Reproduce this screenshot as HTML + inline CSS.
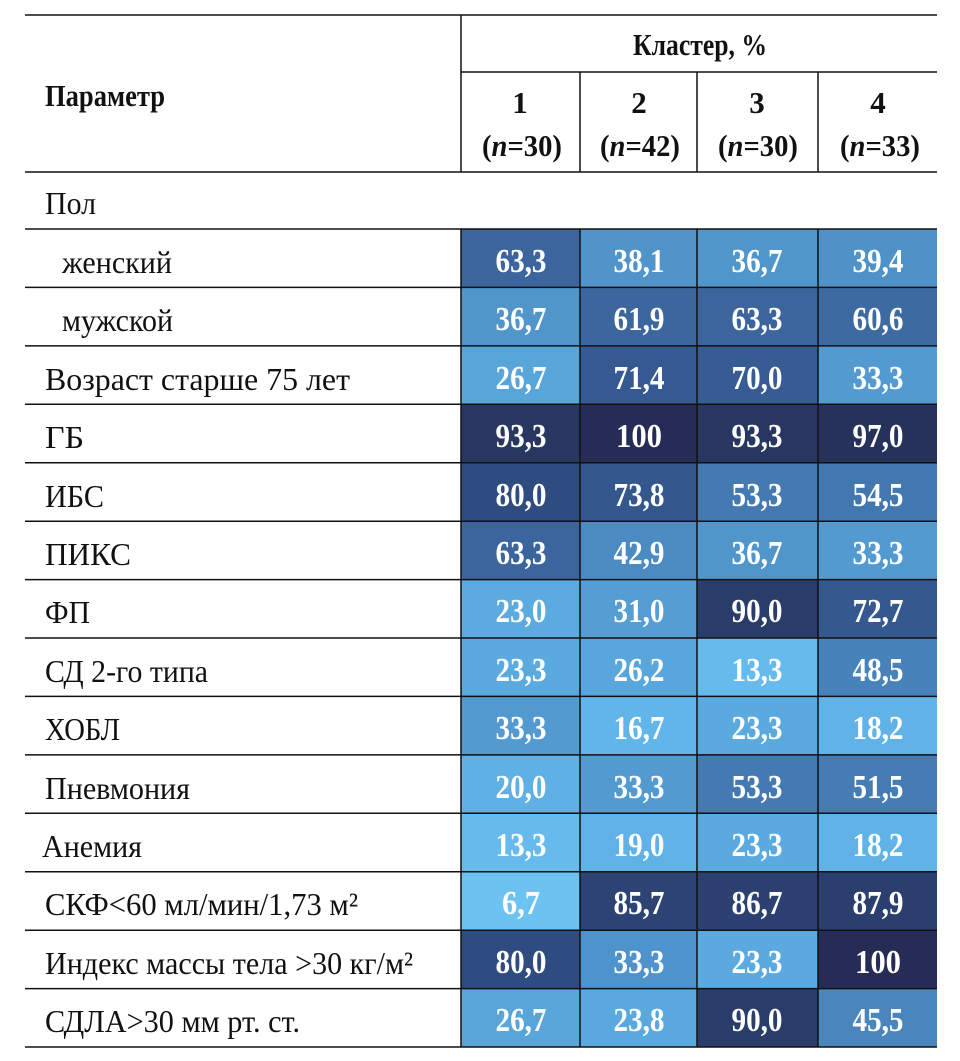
<!DOCTYPE html>
<html><head><meta charset="utf-8"><style>
html,body{margin:0;padding:0;background:#fff;width:960px;height:1061px;overflow:hidden}
svg text{font-family:"Liberation Serif",serif}
.v{font-weight:bold;fill:#fff;font-size:34px;text-anchor:middle}
.l{font-size:32px;fill:#111}
.h{font-weight:bold;font-size:31px;fill:#111;text-anchor:middle}
</style></head><body>
<svg width="960" height="1061" xmlns="http://www.w3.org/2000/svg">
<g stroke="none">
<rect x="461" y="229" width="119" height="58.4" fill="#3b659c"/><rect x="580" y="229" width="117" height="58.4" fill="#5094c9"/><rect x="697" y="229" width="121" height="58.4" fill="#5196cb"/><rect x="818" y="229" width="119" height="58.4" fill="#4e92c8"/>
<rect x="461" y="287.4" width="119" height="58.4" fill="#5196cb"/><rect x="580" y="287.4" width="117" height="58.4" fill="#3c679e"/><rect x="697" y="287.4" width="121" height="58.4" fill="#3b659c"/><rect x="818" y="287.4" width="119" height="58.4" fill="#3d6aa1"/>
<rect x="461" y="345.9" width="119" height="58.4" fill="#58a5da"/><rect x="580" y="345.9" width="117" height="58.4" fill="#355a91"/><rect x="697" y="345.9" width="121" height="58.4" fill="#365c93"/><rect x="818" y="345.9" width="119" height="58.4" fill="#539ad0"/>
<rect x="461" y="404.3" width="119" height="58.4" fill="#283761"/><rect x="580" y="404.3" width="117" height="58.4" fill="#262c55"/><rect x="697" y="404.3" width="121" height="58.4" fill="#283761"/><rect x="818" y="404.3" width="119" height="58.4" fill="#27325b"/>
<rect x="461" y="462.7" width="119" height="58.4" fill="#2e4c80"/><rect x="580" y="462.7" width="117" height="58.4" fill="#34578e"/><rect x="697" y="462.7" width="121" height="58.4" fill="#4479b1"/><rect x="818" y="462.7" width="119" height="58.4" fill="#4377af"/>
<rect x="461" y="521.2" width="119" height="58.4" fill="#3b659c"/><rect x="580" y="521.2" width="117" height="58.4" fill="#4c8bc1"/><rect x="697" y="521.2" width="121" height="58.4" fill="#5196cb"/><rect x="818" y="521.2" width="119" height="58.4" fill="#539ad0"/>
<rect x="461" y="579.6" width="119" height="58.4" fill="#5babe0"/><rect x="580" y="579.6" width="117" height="58.4" fill="#549ed4"/><rect x="697" y="579.6" width="121" height="58.4" fill="#2a3c69"/><rect x="818" y="579.6" width="119" height="58.4" fill="#35598f"/>
<rect x="461" y="638" width="119" height="58.4" fill="#5baadf"/><rect x="580" y="638" width="117" height="58.4" fill="#58a6db"/><rect x="697" y="638" width="121" height="58.4" fill="#66bbec"/><rect x="818" y="638" width="119" height="58.4" fill="#4782bb"/>
<rect x="461" y="696.4" width="119" height="58.4" fill="#539ad0"/><rect x="580" y="696.4" width="117" height="58.4" fill="#62b5e8"/><rect x="697" y="696.4" width="121" height="58.4" fill="#5baadf"/><rect x="818" y="696.4" width="119" height="58.4" fill="#61b3e7"/>
<rect x="461" y="754.9" width="119" height="58.4" fill="#5fb0e4"/><rect x="580" y="754.9" width="117" height="58.4" fill="#539ad0"/><rect x="697" y="754.9" width="121" height="58.4" fill="#4479b1"/><rect x="818" y="754.9" width="119" height="58.4" fill="#457cb4"/>
<rect x="461" y="813.3" width="119" height="58.4" fill="#66bbec"/><rect x="580" y="813.3" width="117" height="58.4" fill="#60b2e6"/><rect x="697" y="813.3" width="121" height="58.4" fill="#5baadf"/><rect x="818" y="813.3" width="119" height="58.4" fill="#61b3e7"/>
<rect x="461" y="871.7" width="119" height="58.4" fill="#6cc2f1"/><rect x="580" y="871.7" width="117" height="58.4" fill="#2d4374"/><rect x="697" y="871.7" width="121" height="58.4" fill="#2c4171"/><rect x="818" y="871.7" width="119" height="58.4" fill="#2b3f6e"/>
<rect x="461" y="930.2" width="119" height="58.4" fill="#2e4c80"/><rect x="580" y="930.2" width="117" height="58.4" fill="#4f93cc"/><rect x="697" y="930.2" width="121" height="58.4" fill="#5baadf"/><rect x="818" y="930.2" width="119" height="58.4" fill="#262c55"/>
<rect x="461" y="988.6" width="119" height="58.4" fill="#58a5da"/><rect x="580" y="988.6" width="117" height="58.4" fill="#5aa9de"/><rect x="697" y="988.6" width="121" height="58.4" fill="#2a3c69"/><rect x="818" y="988.6" width="119" height="58.4" fill="#4a86bd"/>
</g>
<g stroke="#111" stroke-width="1.5" fill="none">
<line x1="25" y1="15" x2="937" y2="15"/>
<line x1="461" y1="72" x2="937" y2="72"/>
<line x1="25" y1="172" x2="937" y2="172"/>
<line x1="461" y1="15" x2="461" y2="172"/>
<line x1="580" y1="72" x2="580" y2="172"/>
<line x1="697" y1="72" x2="697" y2="172"/>
<line x1="818" y1="72" x2="818" y2="172"/>
<line x1="25" y1="229" x2="937" y2="229"/><line x1="25" y1="287.4" x2="937" y2="287.4"/><line x1="25" y1="345.9" x2="937" y2="345.9"/><line x1="25" y1="404.3" x2="937" y2="404.3"/><line x1="25" y1="462.7" x2="937" y2="462.7"/><line x1="25" y1="521.2" x2="937" y2="521.2"/><line x1="25" y1="579.6" x2="937" y2="579.6"/><line x1="25" y1="638" x2="937" y2="638"/><line x1="25" y1="696.4" x2="937" y2="696.4"/><line x1="25" y1="754.9" x2="937" y2="754.9"/><line x1="25" y1="813.3" x2="937" y2="813.3"/><line x1="25" y1="871.7" x2="937" y2="871.7"/><line x1="25" y1="930.2" x2="937" y2="930.2"/><line x1="25" y1="988.6" x2="937" y2="988.6"/><line x1="25" y1="1047" x2="937" y2="1047"/>
<line x1="461" y1="229" x2="461" y2="1047"/>
<line x1="580" y1="229" x2="580" y2="1047"/>
<line x1="697" y1="229" x2="697" y2="1047"/>
<line x1="818" y1="229" x2="818" y2="1047"/>
</g>
<text class="h" x="700" y="55" textLength="134" lengthAdjust="spacingAndGlyphs">Кластер, %</text>
<text class="h" x="45" y="106" style="text-anchor:start" textLength="120" lengthAdjust="spacingAndGlyphs">Параметр</text>
<text class="h" x="520" y="113">1</text><text class="h" x="639" y="113">2</text><text class="h" x="757" y="113">3</text><text class="h" x="878" y="113">4</text>
<text class="h" x="522" y="156" textLength="80" lengthAdjust="spacingAndGlyphs">(<tspan font-style="italic">n</tspan>=30)</text><text class="h" x="640" y="156" textLength="80" lengthAdjust="spacingAndGlyphs">(<tspan font-style="italic">n</tspan>=42)</text><text class="h" x="758" y="156" textLength="80" lengthAdjust="spacingAndGlyphs">(<tspan font-style="italic">n</tspan>=30)</text><text class="h" x="880" y="156" textLength="80" lengthAdjust="spacingAndGlyphs">(<tspan font-style="italic">n</tspan>=33)</text>
<g>
<text class="l" x="45" y="214" textLength="51" lengthAdjust="spacingAndGlyphs">Пол</text>
<text class="l" x="62" y="273" textLength="110" lengthAdjust="spacingAndGlyphs">женский</text>
<text class="l" x="62" y="331" textLength="111" lengthAdjust="spacingAndGlyphs">мужской</text>
<text class="l" x="45" y="390" textLength="305" lengthAdjust="spacingAndGlyphs">Возраст старше 75 лет</text>
<text class="l" x="45" y="448" textLength="39" lengthAdjust="spacingAndGlyphs">ГБ</text>
<text class="l" x="45" y="507" textLength="59" lengthAdjust="spacingAndGlyphs">ИБС</text>
<text class="l" x="45" y="565" textLength="86" lengthAdjust="spacingAndGlyphs">ПИКС</text>
<text class="l" x="45" y="623" textLength="45" lengthAdjust="spacingAndGlyphs">ФП</text>
<text class="l" x="45" y="682" textLength="163" lengthAdjust="spacingAndGlyphs">СД 2-го типа</text>
<text class="l" x="45" y="740" textLength="75" lengthAdjust="spacingAndGlyphs">ХОБЛ</text>
<text class="l" x="45" y="799" textLength="145" lengthAdjust="spacingAndGlyphs">Пневмония</text>
<text class="l" x="42" y="857" textLength="100" lengthAdjust="spacingAndGlyphs">Анемия</text>
<text class="l" x="45" y="915" textLength="313" lengthAdjust="spacingAndGlyphs">СКФ&lt;60 мл/мин/1,73 м²</text>
<text class="l" x="45" y="974" textLength="368" lengthAdjust="spacingAndGlyphs">Индекс массы тела &gt;30 кг/м²</text>
<text class="l" x="45" y="1032" textLength="255" lengthAdjust="spacingAndGlyphs">СДЛА&gt;30 мм рт. ст.</text>
</g>
<g lengthAdjust="spacingAndGlyphs">
<text class="v" x="521" y="272" textLength="51" lengthAdjust="spacingAndGlyphs">63,3</text><text class="v" x="639" y="272" textLength="51" lengthAdjust="spacingAndGlyphs">38,1</text><text class="v" x="757" y="272" textLength="51" lengthAdjust="spacingAndGlyphs">36,7</text><text class="v" x="878" y="272" textLength="51" lengthAdjust="spacingAndGlyphs">39,4</text>
<text class="v" x="521" y="330" textLength="51" lengthAdjust="spacingAndGlyphs">36,7</text><text class="v" x="639" y="330" textLength="51" lengthAdjust="spacingAndGlyphs">61,9</text><text class="v" x="757" y="330" textLength="51" lengthAdjust="spacingAndGlyphs">63,3</text><text class="v" x="878" y="330" textLength="51" lengthAdjust="spacingAndGlyphs">60,6</text>
<text class="v" x="521" y="389" textLength="51" lengthAdjust="spacingAndGlyphs">26,7</text><text class="v" x="639" y="389" textLength="51" lengthAdjust="spacingAndGlyphs">71,4</text><text class="v" x="757" y="389" textLength="51" lengthAdjust="spacingAndGlyphs">70,0</text><text class="v" x="878" y="389" textLength="51" lengthAdjust="spacingAndGlyphs">33,3</text>
<text class="v" x="521" y="447" textLength="51" lengthAdjust="spacingAndGlyphs">93,3</text><text class="v" x="639" y="447" textLength="46" lengthAdjust="spacingAndGlyphs">100</text><text class="v" x="757" y="447" textLength="51" lengthAdjust="spacingAndGlyphs">93,3</text><text class="v" x="878" y="447" textLength="51" lengthAdjust="spacingAndGlyphs">97,0</text>
<text class="v" x="521" y="506" textLength="51" lengthAdjust="spacingAndGlyphs">80,0</text><text class="v" x="639" y="506" textLength="51" lengthAdjust="spacingAndGlyphs">73,8</text><text class="v" x="757" y="506" textLength="51" lengthAdjust="spacingAndGlyphs">53,3</text><text class="v" x="878" y="506" textLength="51" lengthAdjust="spacingAndGlyphs">54,5</text>
<text class="v" x="521" y="564" textLength="51" lengthAdjust="spacingAndGlyphs">63,3</text><text class="v" x="639" y="564" textLength="51" lengthAdjust="spacingAndGlyphs">42,9</text><text class="v" x="757" y="564" textLength="51" lengthAdjust="spacingAndGlyphs">36,7</text><text class="v" x="878" y="564" textLength="51" lengthAdjust="spacingAndGlyphs">33,3</text>
<text class="v" x="521" y="622" textLength="51" lengthAdjust="spacingAndGlyphs">23,0</text><text class="v" x="639" y="622" textLength="51" lengthAdjust="spacingAndGlyphs">31,0</text><text class="v" x="757" y="622" textLength="51" lengthAdjust="spacingAndGlyphs">90,0</text><text class="v" x="878" y="622" textLength="51" lengthAdjust="spacingAndGlyphs">72,7</text>
<text class="v" x="521" y="681" textLength="51" lengthAdjust="spacingAndGlyphs">23,3</text><text class="v" x="639" y="681" textLength="51" lengthAdjust="spacingAndGlyphs">26,2</text><text class="v" x="757" y="681" textLength="51" lengthAdjust="spacingAndGlyphs">13,3</text><text class="v" x="878" y="681" textLength="51" lengthAdjust="spacingAndGlyphs">48,5</text>
<text class="v" x="521" y="739" textLength="51" lengthAdjust="spacingAndGlyphs">33,3</text><text class="v" x="639" y="739" textLength="51" lengthAdjust="spacingAndGlyphs">16,7</text><text class="v" x="757" y="739" textLength="51" lengthAdjust="spacingAndGlyphs">23,3</text><text class="v" x="878" y="739" textLength="51" lengthAdjust="spacingAndGlyphs">18,2</text>
<text class="v" x="521" y="798" textLength="51" lengthAdjust="spacingAndGlyphs">20,0</text><text class="v" x="639" y="798" textLength="51" lengthAdjust="spacingAndGlyphs">33,3</text><text class="v" x="757" y="798" textLength="51" lengthAdjust="spacingAndGlyphs">53,3</text><text class="v" x="878" y="798" textLength="51" lengthAdjust="spacingAndGlyphs">51,5</text>
<text class="v" x="521" y="856" textLength="51" lengthAdjust="spacingAndGlyphs">13,3</text><text class="v" x="639" y="856" textLength="51" lengthAdjust="spacingAndGlyphs">19,0</text><text class="v" x="757" y="856" textLength="51" lengthAdjust="spacingAndGlyphs">23,3</text><text class="v" x="878" y="856" textLength="51" lengthAdjust="spacingAndGlyphs">18,2</text>
<text class="v" x="521" y="914" textLength="38" lengthAdjust="spacingAndGlyphs">6,7</text><text class="v" x="639" y="914" textLength="51" lengthAdjust="spacingAndGlyphs">85,7</text><text class="v" x="757" y="914" textLength="51" lengthAdjust="spacingAndGlyphs">86,7</text><text class="v" x="878" y="914" textLength="51" lengthAdjust="spacingAndGlyphs">87,9</text>
<text class="v" x="521" y="973" textLength="51" lengthAdjust="spacingAndGlyphs">80,0</text><text class="v" x="639" y="973" textLength="51" lengthAdjust="spacingAndGlyphs">33,3</text><text class="v" x="757" y="973" textLength="51" lengthAdjust="spacingAndGlyphs">23,3</text><text class="v" x="878" y="973" textLength="46" lengthAdjust="spacingAndGlyphs">100</text>
<text class="v" x="521" y="1031" textLength="51" lengthAdjust="spacingAndGlyphs">26,7</text><text class="v" x="639" y="1031" textLength="51" lengthAdjust="spacingAndGlyphs">23,8</text><text class="v" x="757" y="1031" textLength="51" lengthAdjust="spacingAndGlyphs">90,0</text><text class="v" x="878" y="1031" textLength="51" lengthAdjust="spacingAndGlyphs">45,5</text>
</g>
</svg>
</body></html>
